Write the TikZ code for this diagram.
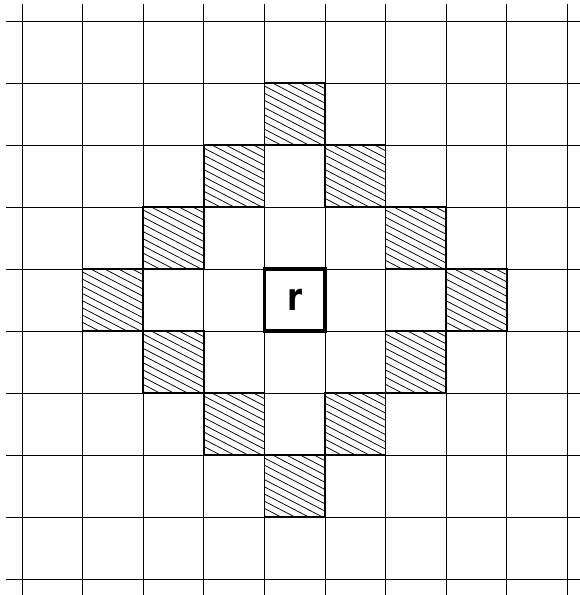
\documentclass[tikz,border=0pt]{standalone}
\usepackage{fontspec}
\newfontfamily\markfont{DejaVu Sans}

\begin{document}
\begin{tikzpicture}[
  x=1pt, y=-1pt,
  gridline/.style={line width=0.9pt},
  cellborder/.style={draw, line width=1.6pt},
  hatchline/.style={line width=0.75pt},
  centre/.style={draw, line width=3.4pt},
  originlabel/.style={font=\markfont\bfseries\fontsize{38}{38}\selectfont, xscale=0.8, inner sep=0pt}
]
  \useasboundingbox (0,0) rectangle (580,595);
  %% grid
  \foreach \i in {0,...,9} {
    \draw[gridline] ({22+60.6*\i},4) -- ({22+60.6*\i},595);
    \draw[gridline] (6,{21+62*\i}) -- (580,{21+62*\i});
  }
  %% cells at distance three from the centre
  \foreach \c/\r in {4/1,3/2,5/2,2/3,6/3,1/4,7/4,2/5,6/5,3/6,5/6,4/7} {
    \pgfmathsetmacro\xa{22+60.6*\c}
    \pgfmathsetmacro\ya{21+62*\r}
    \begin{scope}
      \clip (\xa,\ya) rectangle ({\xa+60.6},{\ya+62});
      \foreach \k in {-5,...,9}
        \draw[hatchline] (\xa,{\ya+3+7.2*\k}) -- ({\xa+60.6},{\ya+3+7.2*\k+31.5});
    \end{scope}
    \draw[cellborder] (\xa,\ya) rectangle ({\xa+60.6},{\ya+62});
  }
  %% centre cell
  \draw[centre] (264.4,269) rectangle (325,331);
  \node[originlabel] (origin) at (294.5,300) {r};
\end{tikzpicture}
\end{document}
